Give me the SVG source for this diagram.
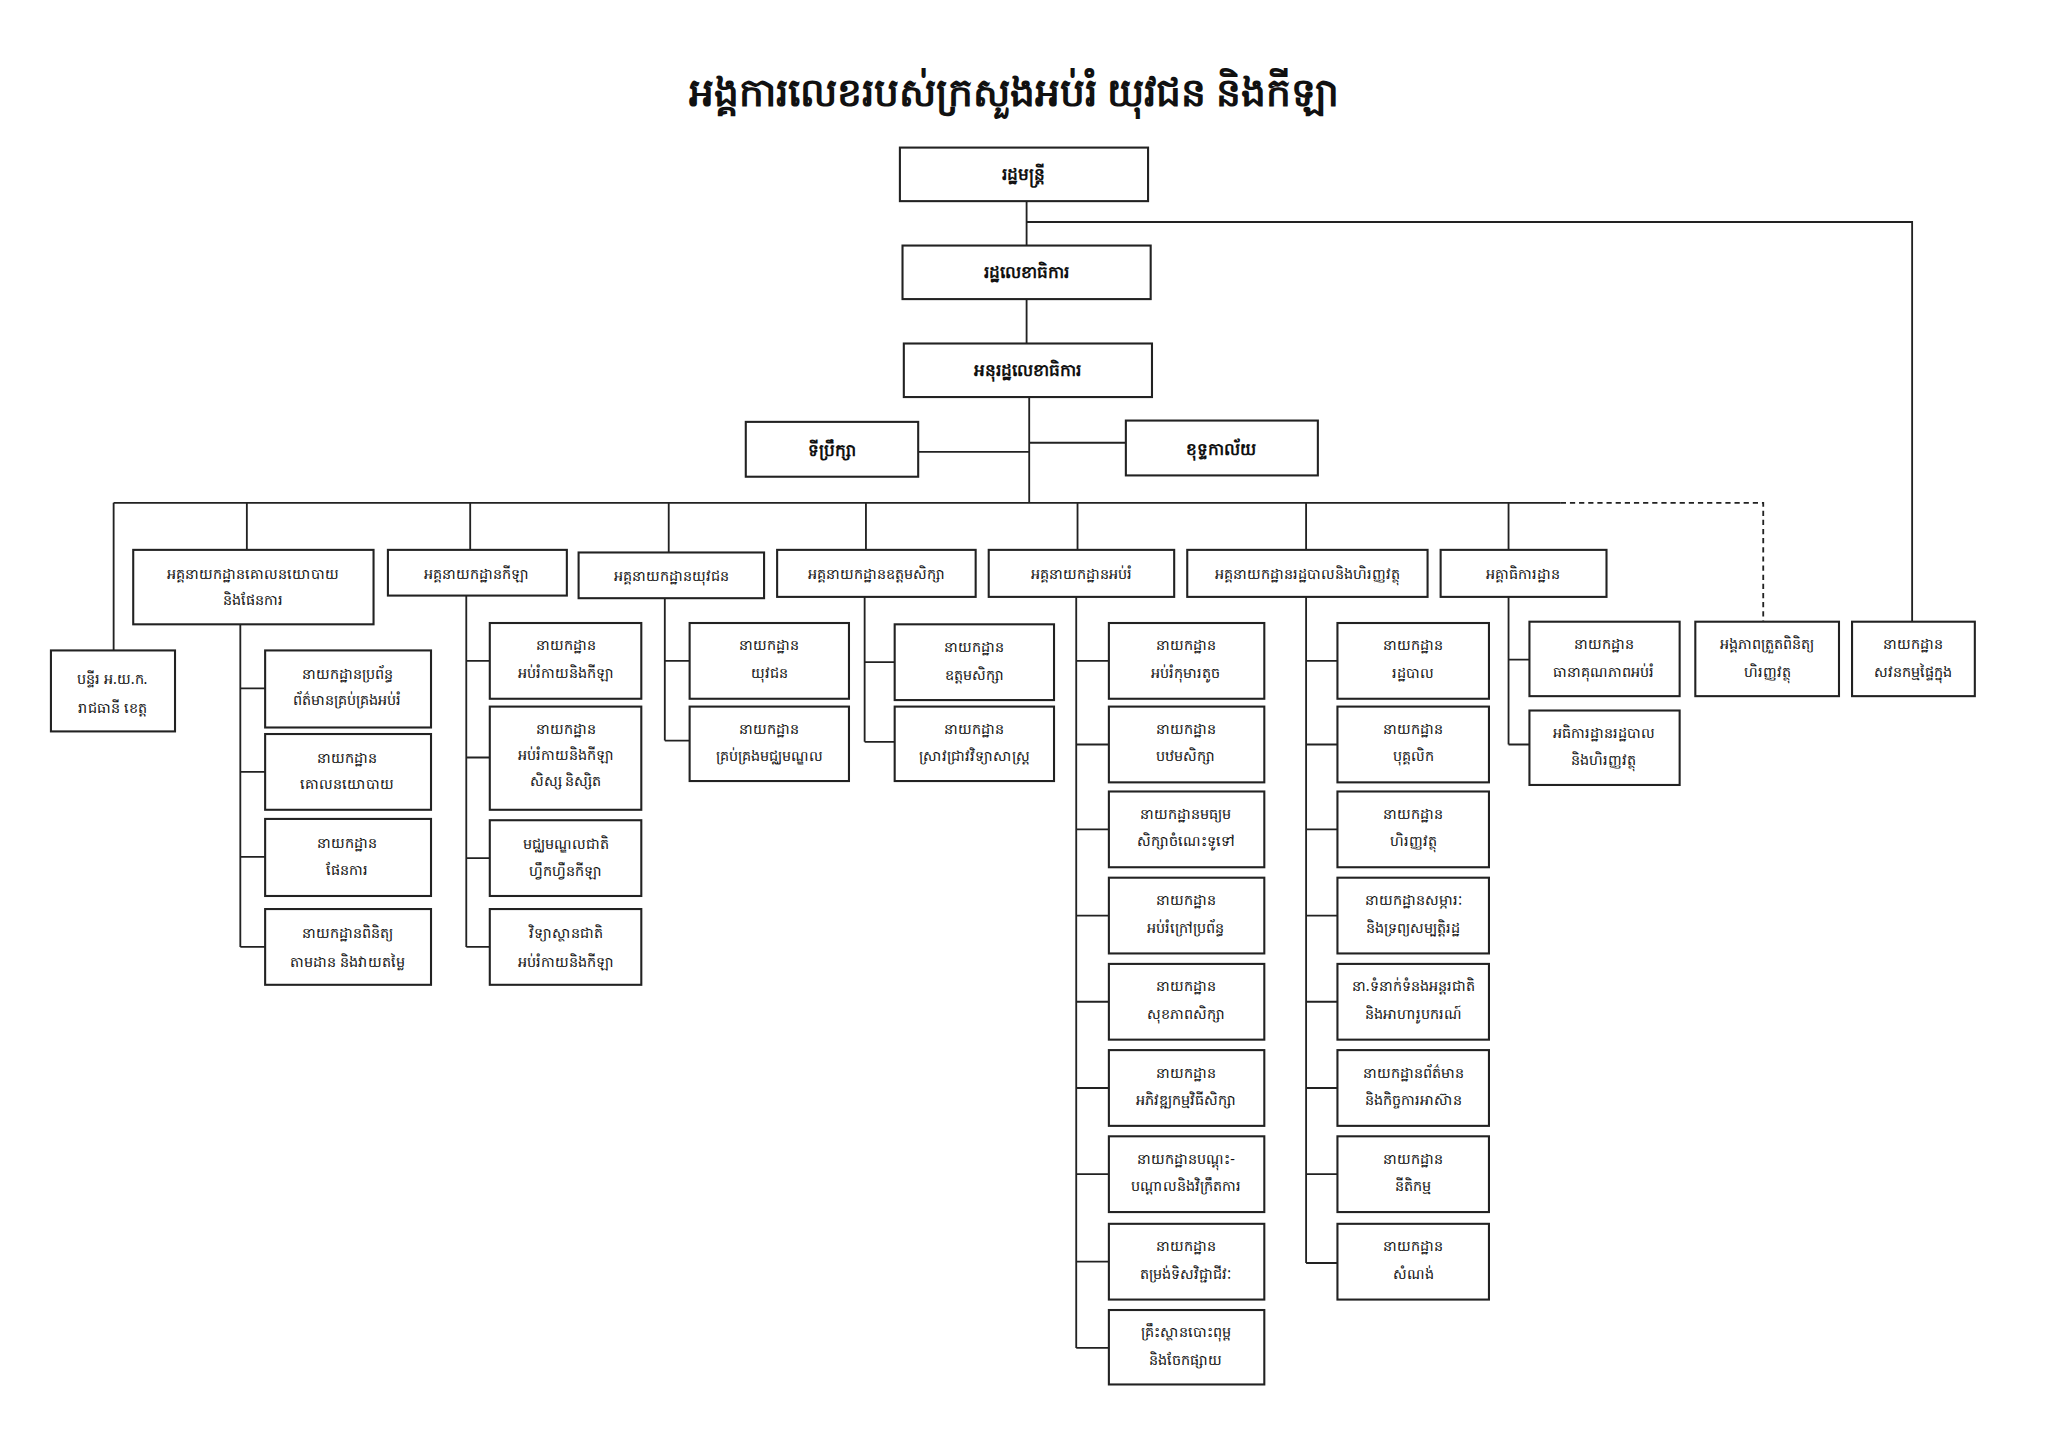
<svg xmlns="http://www.w3.org/2000/svg" width="2048" height="1431" viewBox="0 0 2048 1431">
<style>
.b{fill:#fff;stroke:#222;stroke-width:1.6}
.c{fill:none;stroke:#222;stroke-width:1.4}
.d{fill:none;stroke:#222;stroke-width:1.4;stroke-dasharray:4 3}
text{font-family:"Noto Sans","DejaVu Sans",sans-serif;font-size:11px;fill:#111;text-anchor:middle}
.h{font-weight:bold;font-size:13px}
.t{font-weight:bold;font-size:30px}
</style>
<rect width="2048" height="1431" fill="#fff"/>
<g transform="scale(1.3061)">
<text class="t" x="776" y="81">អង្គការលេខរបស់ក្រសួងអប់រំ យុវជន និងកីឡា</text>
<g id="connectors">
<path class="c" d="M786 154V188M786 170H1464V476M786 229V263M788 304V385M703 346H788M788 339H862"/>
<path class="c" d="M87 385H1195M87 385V498M189 385V421M360 385V421M512 385V423M663 385V421M825 385V421M1000 385V421M1155 385V421"/>
<path class="d" d="M1195 385H1350V476"/>
<path class="c" d="M184 478V725M184 527H203M184 591H203M184 656H203M184 725H203"/>
<path class="c" d="M357 456V725M357 506H375M357 580H375M357 657H375M357 725H375"/>
<path class="c" d="M509 458V567M509 506H528M509 567H528"/>
<path class="c" d="M662 457V568M662 507H685M662 568H685"/>
<path class="c" d="M824 457V1032M824 506H849M824 570H849M824 635H849M824 701H849M824 767H849M824 833H849M824 899H849M824 966H849M824 1032H849"/>
<path class="c" d="M1000 457V967M1000 506H1024M1000 570H1024M1000 635H1024M1000 701H1024M1000 767H1024M1000 833H1024M1000 899H1024M1000 967H1024"/>
<path class="c" d="M1155 457V570M1155 505H1171M1155 570H1171"/>
</g>
<g id="n-minister"><rect class="b" x="689" y="113" width="190" height="41"/><text class="h" x="784" y="138">រដ្ឋមន្ត្រី</text></g>
<g id="n-secretary"><rect class="b" x="691" y="188" width="190" height="41"/><text class="h" x="786" y="213">រដ្ឋលេខាធិការ</text></g>
<g id="n-under"><rect class="b" x="692" y="263" width="190" height="41"/><text class="h" x="787" y="288">អនុរដ្ឋលេខាធិការ</text></g>
<g id="n-advisor"><rect class="b" x="571" y="323" width="132" height="42"/><text class="h" x="637" y="349">ទីប្រឹក្សា</text></g>
<g id="n-cabinet"><rect class="b" x="862" y="322" width="147" height="42"/><text class="h" x="935" y="348">ខុទ្ទកាល័យ</text></g>
<g id="n-prov"><rect class="b" x="39" y="498" width="95" height="62"/><text x="86" y="524">បន្ទីរ អ.យ.ក.</text><text x="86" y="546">រាជធានី ខេត្ត</text></g>
<g id="n-gd-policy"><rect class="b" x="102" y="421" width="184" height="57"/><text x="194" y="443">អគ្គនាយកដ្ឋានគោលនយោបាយ</text><text x="194" y="463">និងផែនការ</text></g>
<g id="n-gd-sport"><rect class="b" x="297" y="421" width="137" height="35"/><text x="365" y="443">អគ្គនាយកដ្ឋានកីឡា</text></g>
<g id="n-gd-youth"><rect class="b" x="443" y="423" width="142" height="35"/><text x="514" y="445">អគ្គនាយកដ្ឋានយុវជន</text></g>
<g id="n-gd-higher"><rect class="b" x="595" y="421" width="152" height="36"/><text x="671" y="443">អគ្គនាយកដ្ឋានឧត្តមសិក្សា</text></g>
<g id="n-gd-edu"><rect class="b" x="757" y="421" width="142" height="36"/><text x="828" y="443">អគ្គនាយកដ្ឋានអប់រំ</text></g>
<g id="n-gd-admin"><rect class="b" x="909" y="421" width="184" height="36"/><text x="1001" y="443">អគ្គនាយកដ្ឋានរដ្ឋបាលនិងហិរញ្ញវត្ថុ</text></g>
<g id="n-insp"><rect class="b" x="1103" y="421" width="127" height="36"/><text x="1166" y="443">អគ្គាធិការដ្ឋាន</text></g>
<g id="n-fin-ctrl"><rect class="b" x="1298" y="476" width="110" height="57"/><text x="1353" y="497">អង្គភាពត្រួតពិនិត្យ</text><text x="1353" y="518">ហិរញ្ញវត្ថុ</text></g>
<g id="n-audit"><rect class="b" x="1418" y="476" width="94" height="57"/><text x="1465" y="497">នាយកដ្ឋាន</text><text x="1465" y="518">សវនកម្មផ្ទៃក្នុង</text></g>

<g id="p1"><rect class="b" x="203" y="498" width="127" height="59"/><text x="266" y="520">នាយកដ្ឋានប្រព័ន្ធ</text><text x="266" y="540">ព័ត៌មានគ្រប់គ្រងអប់រំ</text></g>
<g id="p2"><rect class="b" x="203" y="562" width="127" height="58"/><text x="266" y="584">នាយកដ្ឋាន</text><text x="266" y="604">គោលនយោបាយ</text></g>
<g id="p3"><rect class="b" x="203" y="627" width="127" height="59"/><text x="266" y="649">នាយកដ្ឋាន</text><text x="266" y="670">ផែនការ</text></g>
<g id="p4"><rect class="b" x="203" y="696" width="127" height="58"/><text x="266" y="718">នាយកដ្ឋានពិនិត្យ</text><text x="266" y="740">តាមដាន និងវាយតម្លៃ</text></g>

<g id="s1"><rect class="b" x="375" y="477" width="116" height="58"/><text x="433" y="498">នាយកដ្ឋាន</text><text x="433" y="519">អប់រំកាយនិងកីឡា</text></g>
<g id="s2"><rect class="b" x="375" y="541" width="116" height="79"/><text x="433" y="562">នាយកដ្ឋាន</text><text x="433" y="582">អប់រំកាយនិងកីឡា</text><text x="433" y="602">សិស្ស និស្សិត</text></g>
<g id="s3"><rect class="b" x="375" y="628" width="116" height="58"/><text x="433" y="650">មជ្ឈមណ្ឌលជាតិ</text><text x="433" y="671">ហ្វឹកហ្វឺនកីឡា</text></g>
<g id="s4"><rect class="b" x="375" y="696" width="116" height="58"/><text x="433" y="718">វិទ្យាស្ថានជាតិ</text><text x="433" y="740">អប់រំកាយនិងកីឡា</text></g>

<g id="y1"><rect class="b" x="528" y="477" width="122" height="58"/><text x="589" y="498">នាយកដ្ឋាន</text><text x="589" y="519">យុវជន</text></g>
<g id="y2"><rect class="b" x="528" y="541" width="122" height="57"/><text x="589" y="562">នាយកដ្ឋាន</text><text x="589" y="583">គ្រប់គ្រងមជ្ឈមណ្ឌល</text></g>

<g id="h1"><rect class="b" x="685" y="478" width="122" height="58"/><text x="746" y="499">នាយកដ្ឋាន</text><text x="746" y="521">ឧត្តមសិក្សា</text></g>
<g id="h2"><rect class="b" x="685" y="541" width="122" height="57"/><text x="746" y="562">នាយកដ្ឋាន</text><text x="746" y="583">ស្រាវជ្រាវវិទ្យាសាស្ត្រ</text></g>

<g id="e1"><rect class="b" x="849" y="477" width="119" height="58"/><text x="908" y="498">នាយកដ្ឋាន</text><text x="908" y="519">អប់រំកុមារតូច</text></g>
<g id="e2"><rect class="b" x="849" y="541" width="119" height="58"/><text x="908" y="562">នាយកដ្ឋាន</text><text x="908" y="583">បឋមសិក្សា</text></g>
<g id="e3"><rect class="b" x="849" y="606" width="119" height="58"/><text x="908" y="627">នាយកដ្ឋានមធ្យម</text><text x="908" y="648">សិក្សាចំណេះទូទៅ</text></g>
<g id="e4"><rect class="b" x="849" y="672" width="119" height="58"/><text x="908" y="693">នាយកដ្ឋាន</text><text x="908" y="714">អប់រំក្រៅប្រព័ន្ធ</text></g>
<g id="e5"><rect class="b" x="849" y="738" width="119" height="58"/><text x="908" y="759">នាយកដ្ឋាន</text><text x="908" y="780">សុខភាពសិក្សា</text></g>
<g id="e6"><rect class="b" x="849" y="804" width="119" height="58"/><text x="908" y="825">នាយកដ្ឋាន</text><text x="908" y="846">អភិវឌ្ឍកម្មវិធីសិក្សា</text></g>
<g id="e7"><rect class="b" x="849" y="870" width="119" height="58"/><text x="908" y="891">នាយកដ្ឋានបណ្តុះ-</text><text x="908" y="912">បណ្តាលនិងវិក្រឹតការ</text></g>
<g id="e8"><rect class="b" x="849" y="937" width="119" height="58"/><text x="908" y="958">នាយកដ្ឋាន</text><text x="908" y="979">តម្រង់ទិសវិជ្ជាជីវៈ</text></g>
<g id="e9"><rect class="b" x="849" y="1003" width="119" height="57"/><text x="908" y="1024">គ្រឹះស្ថានបោះពុម្ព</text><text x="908" y="1045">និងចែកផ្សាយ</text></g>

<g id="a1"><rect class="b" x="1024" y="477" width="116" height="58"/><text x="1082" y="498">នាយកដ្ឋាន</text><text x="1082" y="519">រដ្ឋបាល</text></g>
<g id="a2"><rect class="b" x="1024" y="541" width="116" height="58"/><text x="1082" y="562">នាយកដ្ឋាន</text><text x="1082" y="583">បុគ្គលិក</text></g>
<g id="a3"><rect class="b" x="1024" y="606" width="116" height="58"/><text x="1082" y="627">នាយកដ្ឋាន</text><text x="1082" y="648">ហិរញ្ញវត្ថុ</text></g>
<g id="a4"><rect class="b" x="1024" y="672" width="116" height="58"/><text x="1082" y="693">នាយកដ្ឋានសម្ភារៈ</text><text x="1082" y="714">និងទ្រព្យសម្បត្តិរដ្ឋ</text></g>
<g id="a5"><rect class="b" x="1024" y="738" width="116" height="58"/><text x="1082" y="759">នា.ទំនាក់ទំនងអន្តរជាតិ</text><text x="1082" y="780">និងអាហារូបករណ៍</text></g>
<g id="a6"><rect class="b" x="1024" y="804" width="116" height="58"/><text x="1082" y="825">នាយកដ្ឋានព័ត៌មាន</text><text x="1082" y="846">និងកិច្ចការអាស៊ាន</text></g>
<g id="a7"><rect class="b" x="1024" y="870" width="116" height="58"/><text x="1082" y="891">នាយកដ្ឋាន</text><text x="1082" y="912">នីតិកម្ម</text></g>
<g id="a8"><rect class="b" x="1024" y="937" width="116" height="58"/><text x="1082" y="958">នាយកដ្ឋាន</text><text x="1082" y="979">សំណង់</text></g>

<g id="i1"><rect class="b" x="1171" y="476" width="115" height="57"/><text x="1228" y="497">នាយកដ្ឋាន</text><text x="1228" y="518">ធានាគុណភាពអប់រំ</text></g>
<g id="i2"><rect class="b" x="1171" y="544" width="115" height="57"/><text x="1228" y="565">អធិការដ្ឋានរដ្ឋបាល</text><text x="1228" y="586">និងហិរញ្ញវត្ថុ</text></g>
</g>
</svg>
